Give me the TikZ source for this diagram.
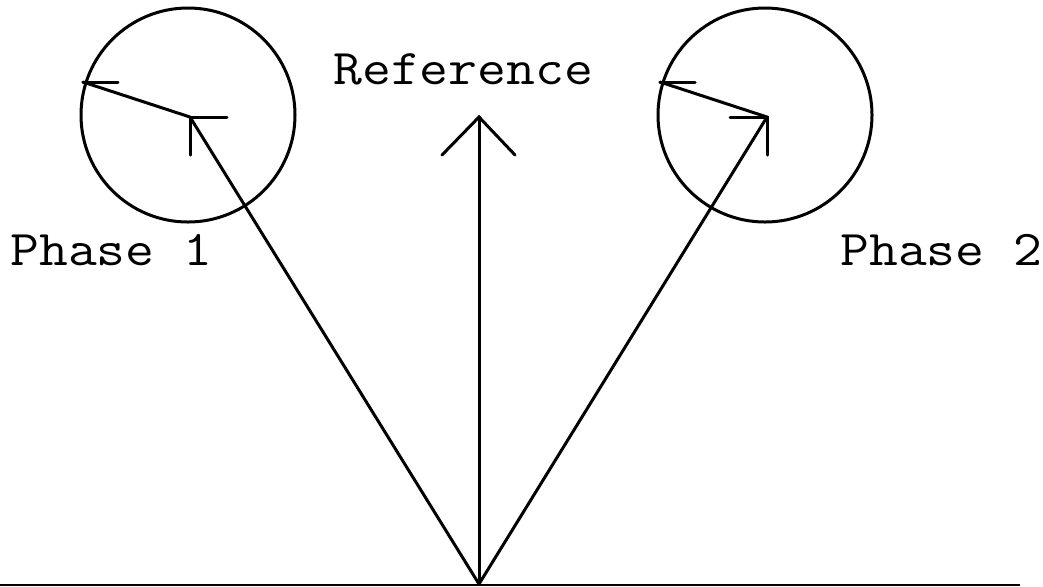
\documentclass[tikz,border=0pt]{standalone}
\usepackage{xcolor}
\usepackage{tikz}
\usetikzlibrary{calc}
\definecolor{inkmain}{HTML}{000000}
\newcommand{\widetag}[1]{\scalebox{1.12}[1]{#1}}
\tikzset{
  phasor/.style={inkmain,line width=1.5pt,line cap=round},
  barb/.style={inkmain,line width=1.5pt,line cap=round},
  ring/.style={inkmain,line width=1.5pt},
  tag/.style={inner sep=0pt,anchor=base west,font=\ttfamily\fontsize{25}{30}\selectfont}
}

\begin{document}
\begin{tikzpicture}[x=0.5pt,y=-0.5pt]
  % pixel grid of the 1043x586 reference, y pointing down
  \useasboundingbox (0,0) rectangle (1043,586);
  \coordinate (O) at (479,584);
  \coordinate (R) at (479,117);
  \coordinate (C1) at (190,117);
  \coordinate (C2) at (767,117);
  \coordinate (P1) at (83,82);
  \coordinate (P2) at (660,82);
  \coordinate (G0) at (0,585);
  \coordinate (G1) at (1020,585);

  \draw[inkmain,line width=0.6pt] (G0)--(G1);
  \draw[ring] (188,115) circle (107);
  \draw[ring] (765,115) circle (107);

  % reference phasor
  \draw[phasor] (O)--(R);
  \draw[barb] (442,155)--(R)--(515,155);
  % phase 1
  \draw[phasor] (O)--(C1);
  \draw[barb] (227,117)--(C1)--(190,155);
  \draw[phasor] (C1)--(P1);
  \draw[barb] (P1)--(118,82);
  % phase 2
  \draw[phasor] (O)--(C2);
  \draw[barb] (730,117)--(C2)--(767,155);
  \draw[phasor] (C2)--(P2);
  \draw[barb] (P2)--(695,82);

  \node[tag] (ref) at (333,84) {\widetag{Reference}};
  \node[tag] (ph1) at (10,265) {\widetag{Phase 1}};
  \node[tag] (ph2) at (840,265) {\widetag{Phase 2}};
\end{tikzpicture}
\end{document}
